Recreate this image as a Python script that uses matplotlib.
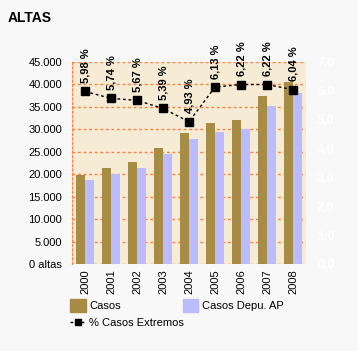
import matplotlib
matplotlib.use("Agg")
import matplotlib.pyplot as plt
import numpy as np
from matplotlib.patches import Patch
from matplotlib.lines import Line2D

plt.rcParams['font.family'] = ['Liberation Sans', 'DejaVu Sans']

years = ['2000', '2001', '2002', '2003', '2004', '2005', '2006', '2007', '2008']
casos = [19800, 21300, 22650, 25750, 29100, 31350, 32000, 37400, 40600]
casos_depu = [18700, 20050, 21300, 24500, 27850, 29350, 30050, 35200, 38000]
pct_extremos = [5.98, 5.74, 5.67, 5.39, 4.93, 6.13, 6.22, 6.22, 6.04]
left_ticks = [0, 5000, 10000, 15000, 20000, 25000, 30000, 35000, 40000, 45000]
left_labels = ['0 altas', '5.000', '10.000', '15.000', '20.000', '25.000', '30.000', '35.000', '40.000', '45.000']
right_ticks = [0, 1, 2, 3, 4, 5, 6, 7]

c_casos = '#A68C45'
c_depu = '#BBBBFF'
c_grid = '#FF8040'

fig = plt.figure(figsize=(3.58, 3.51), dpi=100, facecolor='#F8F8F8')
ax = fig.add_axes([72/358, 1-264/351, 234/358, 202/351])
ax.set_facecolor('#F6EBD5')
x = np.arange(len(years))
w = 0.33
ax.bar(x - w/2, casos, w, color=c_casos, zorder=2)
ax.bar(x + w/2, casos_depu, w, color=c_depu, zorder=2)
ax.set_xlim(-0.5, len(years) - 0.5)
ax.set_ylim(0, 45000)
ax.set_yticks(left_ticks)
ax.set_yticklabels(left_labels, fontsize=8)
ax.set_xticks(x)
ax.set_xticklabels(years, rotation=90, fontsize=8)
ax.tick_params(axis='y', length=0, pad=7)
ax.tick_params(axis='x', length=0, pad=4)
for v in left_ticks:
    ax.axhline(v, color=c_grid, ls=(0, (2, 2)), lw=1, zorder=1)
for s in ['top', 'right', 'bottom']:
    ax.spines[s].set_visible(False)
ax.spines['left'].set_color(c_grid)
ax.spines['left'].set_linestyle((0, (2, 2)))

ax2 = ax.twinx()
ax2.set_ylim(0, 7)
ax2.set_yticks(right_ticks)
ax2.set_yticklabels([f'{v},0' for v in right_ticks], fontsize=9, color='white', fontweight='bold')
ax2.tick_params(length=0, pad=8)
for s in ax2.spines.values():
    s.set_visible(False)
ax2.plot(x, pct_extremos, color='black', ls=(0, (2, 2)), lw=1, marker='s', markersize=6, zorder=3)
for xi, p in zip(x, pct_extremos):
    ax2.annotate(f'{p:.2f} %'.replace('.', ','), (xi, p), xytext=(0, 6), textcoords='offset points',
                 rotation=90, ha='center', va='bottom', fontsize=8, fontweight='bold', color='black')

fig.text(8/358, 1-18/351, 'ALTAS', fontsize=10, fontweight='bold', va='center', ha='left')

h1 = [Patch(color=c_casos), Patch(color=c_depu)]
leg1 = fig.legend(h1, ['Casos', 'Casos Depu. AP'], ncol=2, loc='upper left',
                  bbox_to_anchor=(70/358, 1-299/351), frameon=False,
                  fontsize=8, handlelength=1.4, handleheight=1.4, handletextpad=0.3, columnspacing=5.6,
                  borderpad=0, borderaxespad=0)
h2 = [Line2D([0], [0], color='black', ls=(0, (2, 2)), marker='s', markersize=5, lw=1)]
leg2 = fig.legend(h2, ['% Casos Extremos'], loc='upper left', bbox_to_anchor=(70/358, 1-318/351),
                  frameon=False, fontsize=8, handlelength=1.4, handletextpad=0.3, borderpad=0, borderaxespad=0)

fig.savefig('out.png', dpi=100, facecolor=fig.get_facecolor())
